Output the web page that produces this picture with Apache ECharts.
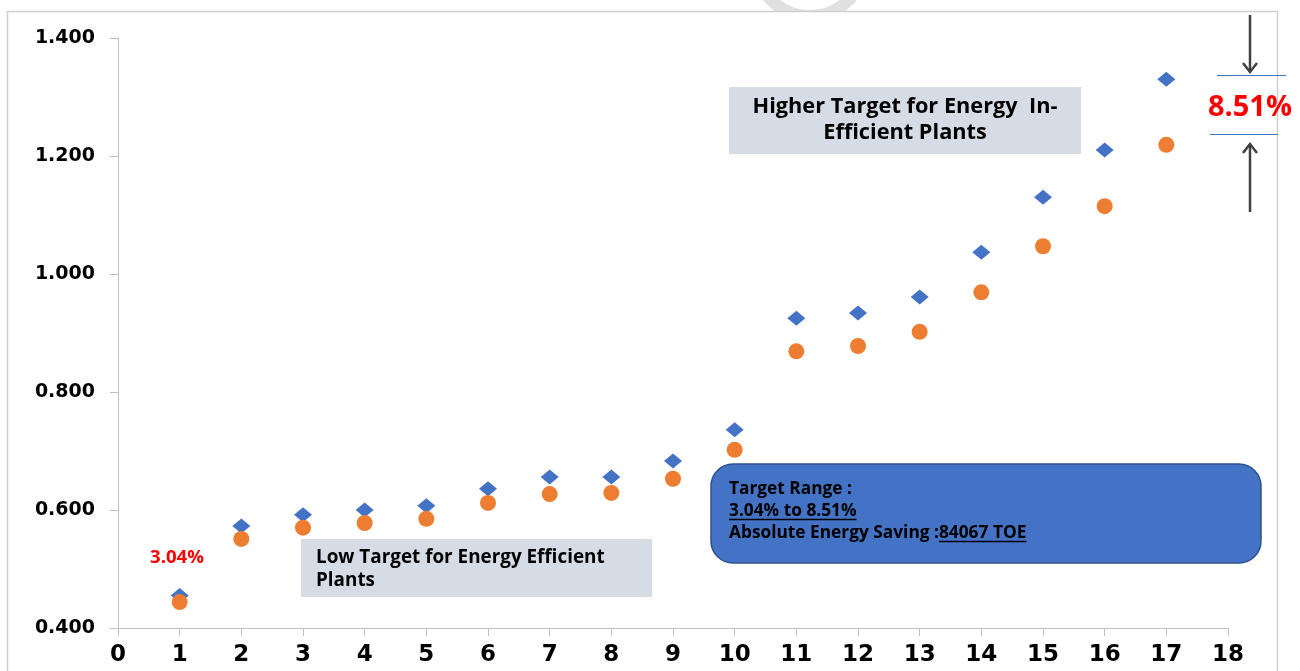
<!DOCTYPE html>
<html>
<head>
<meta charset="utf-8">
<script src="https://cdn.jsdelivr.net/npm/echarts@6/dist/echarts.min.js"></script>
<style>html,body{margin:0;padding:0;background:#fff}#c{width:1300px;height:671px}</style>
</head>
<body>
<div id="c"></div>
<script>
const plants = [1,2,3,4,5,6,7,8,9,10,11,12,13,14,15,16,17];
const baseline = [0.455,0.573,0.592,0.600,0.607,0.636,0.656,0.656,0.683,0.736,0.925,0.934,0.961,1.037,1.130,1.210,1.330];
const target = [0.444,0.551,0.570,0.578,0.585,0.612,0.627,0.629,0.653,0.702,0.869,0.878,0.902,0.969,1.047,1.115,1.219];
const lowLabel = ['Low Target for Energy Efficient', 'Plants'];
const highLabel = ['Higher Target for Energy  In-', 'Efficient Plants'];
const minPct = '3.04%';
const maxPct = '8.51%';
const savePrefix = 'Absolute Energy Saving : ';
const saveVal = '84067 TOE';

const txtFont = '"Open Sans", "Noto Sans", sans-serif';
const axisFont = '"DejaVu Sans", Verdana, sans-serif';
const ctx = document.createElement('canvas').getContext('2d');
function tw(text, font) { ctx.font = font; return ctx.measureText(text).width; }
function fitFont(text, width) {
  const s = 20 * width / tw(text, 'bold 20px ' + txtFont);
  return 'bold ' + s.toFixed(2) + 'px ' + txtFont;
}

const lowFont = fitFont(lowLabel[0], 289);
const highFont = fitFont(highLabel[0], 305);
const boxFont = fitFont(savePrefix.trimEnd() + ' ' + saveVal, 302);
const minFont = fitFont(minPct, 54);
const maxFont = fitFont(maxPct, 84);
const rangeText = minPct + ' to ' + maxPct;
const saveX = 729 + tw(savePrefix, boxFont) - tw(' ', boxFont);

const chart = echarts.init(document.getElementById('c'));
chart.setOption({
  animation: false,
  grid: {left: 118, top: 38, right: 72, bottom: 43, containLabel: false},
  xAxis: {
    type: 'value', min: 0, max: 18, interval: 1,
    axisLine: {show: true, lineStyle: {color: '#bfbfbf', width: 1}},
    axisTick: {show: true, length: 8, lineStyle: {color: '#bfbfbf'}},
    splitLine: {show: false},
    axisLabel: {fontFamily: axisFont, fontWeight: 'bold', fontSize: 23, color: '#000', margin: 16}
  },
  yAxis: {
    type: 'value', min: 0.4, max: 1.4, interval: 0.2,
    axisLine: {show: true, lineStyle: {color: '#bfbfbf', width: 1}},
    axisTick: {show: true, length: 8, lineStyle: {color: '#bfbfbf'}},
    splitLine: {show: false},
    axisLabel: {fontFamily: axisFont, fontWeight: 'bold', fontSize: 19, color: '#000', margin: 23,
      formatter: v => v.toFixed(3)}
  },
  series: [
    {type: 'scatter', name: 'Baseline', symbol: 'diamond', symbolSize: [18, 15],
     itemStyle: {color: '#4472C4', opacity: 1}, data: plants.map((p, i) => [p, baseline[i]]), z: 3},
    {type: 'scatter', name: 'Target', symbol: 'circle', symbolSize: 16,
     itemStyle: {color: '#ED7D31', opacity: 1}, data: plants.map((p, i) => [p, target[i]]), z: 4}
  ],
  graphic: [
    {type: 'arc', shape: {cx: 810, cy: -39, r: 55, startAngle: 0, endAngle: Math.PI}, style: {stroke: '#e0e0e0', lineWidth: 12, fill: 'none'}, z: -3},
    {type: 'rect', shape: {x: 7.5, y: 11.5, width: 1270, height: 700}, style: {fill: '#fff', stroke: '#cfcfcf', lineWidth: 1.5}, z: -1},
    // low target box
    {type: 'rect', shape: {x: 301, y: 539, width: 351, height: 58}, style: {fill: '#D6DCE5'}, z: 1},
    {type: 'text', x: 316, y: 558, style: {text: lowLabel[0], font: lowFont, fill: '#000', verticalAlign: 'middle'}, z: 2},
    {type: 'text', x: 316, y: 581, style: {text: lowLabel[1], font: lowFont, fill: '#000', verticalAlign: 'middle'}, z: 2},
    // high target box
    {type: 'rect', shape: {x: 729, y: 87, width: 352, height: 67}, style: {fill: '#D6DCE5'}, z: 1},
    {type: 'text', x: 905, y: 107, style: {text: highLabel[0], font: highFont, fill: '#000', align: 'center', verticalAlign: 'middle'}, z: 2},
    {type: 'text', x: 905, y: 133, style: {text: highLabel[1], font: highFont, fill: '#000', align: 'center', verticalAlign: 'middle'}, z: 2},
    // 3.04% label
    {type: 'text', x: 177, y: 558, style: {text: minPct, font: minFont, fill: '#FF0000', align: 'center', verticalAlign: 'middle'}, z: 2},
    // blue rounded box
    {type: 'rect', shape: {x: 711, y: 464, width: 550, height: 99, r: 22}, style: {fill: '#4472C4', stroke: '#2F528F', lineWidth: 1.5}, z: 1},
    {type: 'text', x: 729, y: 489, style: {text: 'Target Range :', font: boxFont, fill: '#000', verticalAlign: 'middle'}, z: 2},
    {type: 'text', x: 729, y: 511, style: {text: rangeText, font: boxFont, fill: '#000', verticalAlign: 'middle'}, z: 2},
    {type: 'line', shape: {x1: 729, y1: 519.5, x2: 729 + tw(rangeText, boxFont), y2: 519.5}, style: {stroke: '#000', lineWidth: 1.3}, z: 2},
    {type: 'text', x: 729, y: 533, style: {text: savePrefix.trimEnd(), font: boxFont, fill: '#000', verticalAlign: 'middle'}, z: 2},
    {type: 'text', x: saveX, y: 533, style: {text: saveVal, font: boxFont, fill: '#000', verticalAlign: 'middle'}, z: 2},
    {type: 'line', shape: {x1: saveX, y1: 541.5, x2: saveX + tw(saveVal, boxFont), y2: 541.5}, style: {stroke: '#000', lineWidth: 1.3}, z: 2},
    // right side markers
    {type: 'line', shape: {x1: 1217, y1: 75.5, x2: 1286, y2: 75.5}, style: {stroke: '#4472C4', lineWidth: 1}, z: 2},
    {type: 'line', shape: {x1: 1210, y1: 134.5, x2: 1278, y2: 134.5}, style: {stroke: '#4472C4', lineWidth: 1}, z: 2},
    {type: 'text', x: 1250, y: 108, style: {text: maxPct, font: maxFont, fill: '#FF0000', align: 'center', verticalAlign: 'middle'}, z: 2},
    {type: 'line', shape: {x1: 1250, y1: 15, x2: 1250, y2: 72}, style: {stroke: '#404040', lineWidth: 2.5}, z: 2},
    {type: 'polyline', shape: {points: [[1243, 63], [1250, 72], [1257, 63]]}, style: {stroke: '#404040', lineWidth: 2.5, fill: 'none'}, z: 2},
    {type: 'line', shape: {x1: 1250, y1: 144, x2: 1250, y2: 212}, style: {stroke: '#404040', lineWidth: 2.5}, z: 2},
    {type: 'polyline', shape: {points: [[1243, 153], [1250, 144], [1257, 153]]}, style: {stroke: '#404040', lineWidth: 2.5, fill: 'none'}, z: 2}
  ]
});
</script>
</body>
</html>
